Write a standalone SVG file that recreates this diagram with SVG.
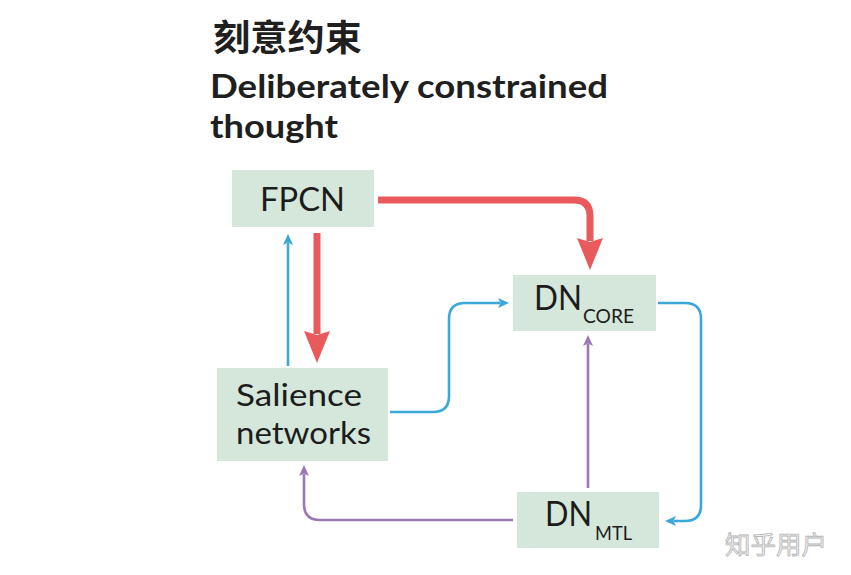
<svg xmlns="http://www.w3.org/2000/svg" width="851" height="575" viewBox="0 0 851 575">
<defs>
<style>
.box{fill:#d4e7da;}
.lbl{font-family:Lato,"Liberation Sans",sans-serif;fill:#1c1c1c;}
.ttl{font-family:Lato,"Liberation Sans",sans-serif;font-weight:700;fill:#1f1f1f;}
.red{fill:none;stroke:#e85a5c;stroke-width:7;}
.blue{fill:none;stroke:#3aa8d8;stroke-width:2.6;}
.purple{fill:none;stroke:#9a78b4;stroke-width:2.6;}
</style>
<marker id="hRed" markerUnits="userSpaceOnUse" markerWidth="34" markerHeight="26" viewBox="0 0 34 26" refX="3" refY="13" orient="auto">
<path d="M0,0 L32,13 L0,26 L4,13 Z" fill="#e85a5c"/>
</marker>
<marker id="hBlue" markerUnits="userSpaceOnUse" markerWidth="12" markerHeight="10" viewBox="0 0 12 10" refX="2" refY="5" orient="auto">
<path d="M0,0 L11,5 L0,10 L2.5,5 Z" fill="#3aa8d8"/>
</marker>
<marker id="hPurple" markerUnits="userSpaceOnUse" markerWidth="12" markerHeight="10" viewBox="0 0 12 10" refX="2" refY="5" orient="auto">
<path d="M0,0 L11,5 L0,10 L2.5,5 Z" fill="#9a78b4"/>
</marker>
</defs>
<rect width="851" height="575" fill="#ffffff"/>
<g id="title">
<text x="213" y="51" font-size="36" font-weight="700" fill="#1f1f1f" font-family="'Noto Sans CJK SC',sans-serif" textLength="149" lengthAdjust="spacingAndGlyphs">刻意约束</text>
<text class="ttl" x="210" y="98" font-size="33" textLength="398" lengthAdjust="spacingAndGlyphs">Deliberately constrained</text>
<text class="ttl" x="210" y="138" font-size="33" textLength="128" lengthAdjust="spacingAndGlyphs">thought</text>
</g>
<g id="connectors">
<path class="red" d="M378,200 H574 Q590,200 590,216 V241" marker-end="url(#hRed)"/>
<path class="red" d="M317,233 V334" marker-end="url(#hRed)"/>
<path class="blue" d="M288,366 V243" marker-end="url(#hBlue)"/>
<path class="blue" d="M390,412 H433 Q449,412 449,396 V319 Q449,303 465,303 H500" marker-end="url(#hBlue)"/>
<path class="blue" d="M658,303 H685 Q701,303 701,319 V505 Q701,521 685,521 H674" marker-end="url(#hBlue)"/>
<path class="purple" d="M588,488 V344" marker-end="url(#hPurple)"/>
<path class="purple" d="M513,520 H320 Q304,520 304,504 V474" marker-end="url(#hPurple)"/>
</g>
<g id="node-fpcn">
<rect class="box" x="232" y="170" width="142" height="57"/>
<text class="lbl" x="260" y="211" font-size="32" textLength="85" lengthAdjust="spacingAndGlyphs">FPCN</text>
</g>
<g id="node-dncore">
<rect class="box" x="513" y="275" width="143" height="56"/>
<text class="lbl" x="534" y="310" font-size="35" textLength="48" lengthAdjust="spacingAndGlyphs">DN</text>
<text class="lbl" x="583" y="323" font-size="20" textLength="51" lengthAdjust="spacingAndGlyphs">CORE</text>
</g>
<g id="node-salience">
<rect class="box" x="217" y="368" width="171" height="93"/>
<text class="lbl" x="236" y="406" font-size="31.5" textLength="126" lengthAdjust="spacingAndGlyphs">Salience</text>
<text class="lbl" x="236" y="444" font-size="31.5" textLength="135" lengthAdjust="spacingAndGlyphs">networks</text>
</g>
<g id="node-dnmtl">
<rect class="box" x="517" y="492" width="142" height="56"/>
<text class="lbl" x="545" y="526" font-size="35" textLength="47" lengthAdjust="spacingAndGlyphs">DN</text>
<text class="lbl" x="595" y="540" font-size="20" textLength="37" lengthAdjust="spacingAndGlyphs">MTL</text>
</g>
<g id="watermark">
<text x="725" y="554" font-size="25" font-family="'Noto Sans CJK SC',sans-serif" fill="#f2f2f2" stroke="#b5b5b5" stroke-width="0.8" textLength="102" lengthAdjust="spacingAndGlyphs">知乎用户</text>
</g>
</svg>
